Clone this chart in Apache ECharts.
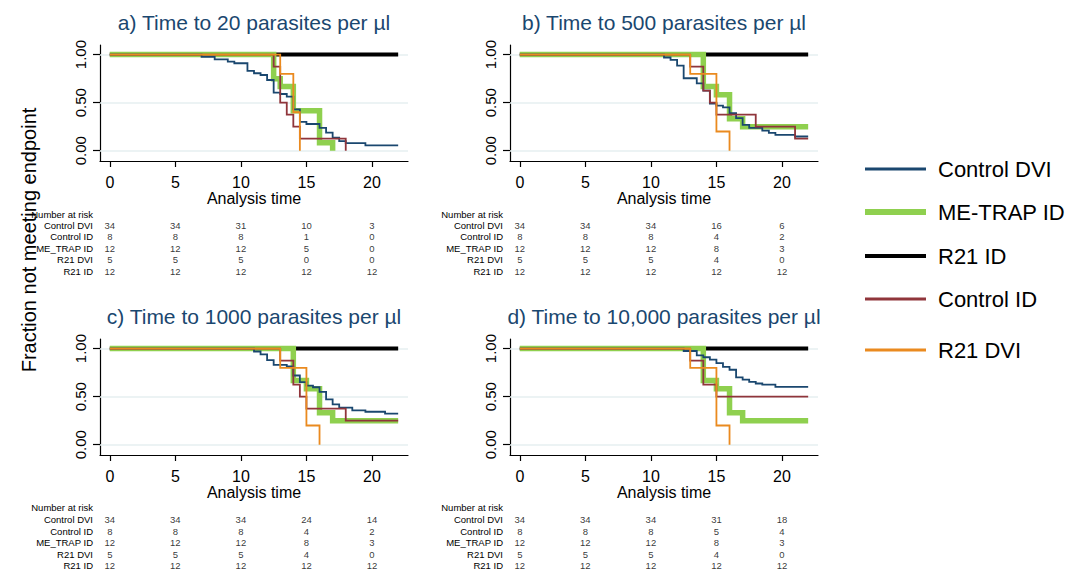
<!DOCTYPE html>
<html>
<head>
<meta charset="utf-8">
<script src="https://cdn.jsdelivr.net/npm/echarts@6/dist/echarts.min.js"></script>
<style>
  html, body { margin: 0; padding: 0; background: #fff; }
  #chart { width: 1073px; height: 573px; }
</style>
</head>
<body>
<div id="chart"></div>
<script>
// Kaplan-Meier curves: each point is [analysis time, fraction not meeting endpoint]
const timeTicks = [0, 5, 10, 15, 20];
const fractionTicks = [0, 0.5, 1];
const riskRowLabels = ['Number at risk', 'Control DVI', 'Control ID', 'ME_TRAP ID', 'R21 DVI', 'R21 ID'];
const legendNames = ['Control DVI', 'ME-TRAP ID', 'R21 ID', 'Control ID', 'R21 DVI'];
const panelTitles = [
  'a) Time to 20 parasites per µl',
  'b) Time to 500 parasites per µl',
  'c) Time to 1000 parasites per µl',
  'd) Time to 10,000 parasites per µl'
];

// R21 ID: no endpoints in any panel
const r21IdSteps = [[0, 1], [22, 1]];

// a) 20 parasites per µl
const controlDviA = [[0, 1], [7, 0.976], [8, 0.951], [9, 0.927], [9.5, 0.91], [10.5, 0.83], [11, 0.806],
  [11.5, 0.788], [12, 0.736], [12.5, 0.604], [13, 0.59], [13.5, 0.5625], [14, 0.43], [14.5, 0.3],
  [15, 0.278], [16, 0.238], [16.5, 0.1875], [17, 0.135], [17.5, 0.1], [18, 0.078], [19.5, 0.055], [22, 0.055]];
const meTrapA = [[0, 1], [12.5, 0.75], [13, 0.667], [14, 0.417], [16, 0.083], [17, 0]];
const controlIdA = [[0, 1], [12.5, 0.875], [13, 0.5], [13.5, 0.375], [14, 0.25], [14.5, 0.125], [18, 0]];
const r21DviA = [[0, 1], [13, 0.8], [14, 0.4], [14.5, 0]];

// b) 500 parasites per µl
const controlDviB = [[0, 1], [11, 0.97], [11.5, 0.945], [12, 0.885], [12.5, 0.754], [13.5, 0.7], [14, 0.625],
  [14.5, 0.49], [15, 0.469], [15.5, 0.45], [16, 0.39], [16.5, 0.34], [17, 0.268], [17.5, 0.238],
  [18.5, 0.21], [19, 0.185], [19.5, 0.165], [21, 0.148], [22, 0.148]];
const meTrapB = [[0, 1], [14, 0.667], [15, 0.583], [16, 0.333], [17, 0.25], [22, 0.25]];
const controlIdB = [[0, 1], [13, 0.875], [14, 0.625], [14.5, 0.5], [15, 0.375], [18, 0.25], [21, 0.125], [22, 0.125]];
const r21DviB = [[0, 1], [13, 0.8], [15, 0.2], [16, 0]];

// c) 1000 parasites per µl
const controlDviC = [[0, 1], [11, 0.97], [11.5, 0.94], [12, 0.88], [12.5, 0.83], [13.5, 0.815], [14, 0.72],
  [14.5, 0.652], [15, 0.615], [15.5, 0.598], [16, 0.55], [16.5, 0.471], [17, 0.42], [17.5, 0.385],
  [18.5, 0.358], [19.5, 0.343], [21, 0.323], [22, 0.323]];
const meTrapC = [[0, 1], [14, 0.667], [15, 0.583], [16, 0.333], [17, 0.25], [22, 0.25]];
const controlIdC = [[0, 1], [13, 0.875], [14, 0.625], [14.5, 0.5], [15, 0.375], [18, 0.25], [22, 0.25]];
const r21DviC = [[0, 1], [13, 0.8], [15, 0.2], [16, 0]];

// d) 10,000 parasites per µl
const controlDviD = [[0, 1], [12.5, 0.975], [13.5, 0.93], [14, 0.91], [14.5, 0.885], [15, 0.85], [15.5, 0.81],
  [16, 0.78], [16.5, 0.7], [17, 0.678], [17.5, 0.654], [18, 0.637], [18.5, 0.626], [19.5, 0.602], [22, 0.602]];
const meTrapD = [[0, 1], [14, 0.667], [15, 0.583], [16, 0.333], [17, 0.25], [22, 0.25]];
const controlIdD = [[0, 1], [13, 0.875], [14, 0.625], [15, 0.5], [22, 0.5]];
const r21DviD = [[0, 1], [13, 0.8], [15, 0.2], [16, 0]];

// Number at risk at times 0, 5, 10, 15, 20 (rows: Control DVI, Control ID, ME_TRAP ID, R21 DVI, R21 ID)
const riskA = [[34, 34, 31, 10, 3], [8, 8, 8, 1, 0], [12, 12, 12, 5, 0], [5, 5, 5, 0, 0], [12, 12, 12, 12, 12]];
const riskB = [[34, 34, 34, 16, 6], [8, 8, 8, 4, 2], [12, 12, 12, 8, 3], [5, 5, 5, 4, 0], [12, 12, 12, 12, 12]];
const riskC = [[34, 34, 34, 24, 14], [8, 8, 8, 4, 2], [12, 12, 12, 8, 3], [5, 5, 5, 4, 0], [12, 12, 12, 12, 12]];
const riskD = [[34, 34, 34, 31, 18], [8, 8, 8, 5, 4], [12, 12, 12, 8, 3], [5, 5, 5, 4, 0], [12, 12, 12, 12, 12]];

const FONT = '"Liberation Sans", Arial, Helvetica, sans-serif';
const colors = {
  'Control DVI': '#1a476f', 'ME-TRAP ID': '#8fd04f', 'R21 ID': '#000000',
  'Control ID': '#90353b', 'R21 DVI': '#ea8a1f'
};
const lineWidths = { 'Control DVI': 1.8, 'ME-TRAP ID': 5.5, 'R21 ID': 4, 'Control ID': 1.8, 'R21 DVI': 1.8 };
const legendThickness = { 'Control DVI': 3, 'ME-TRAP ID': 6, 'R21 ID': 4, 'Control ID': 3, 'R21 DVI': 3 };
const legendCenters = { 'Control DVI': 170, 'ME-TRAP ID': 213, 'R21 ID': 257, 'Control ID': 300, 'R21 DVI': 351 };

const panels = [
  { left: 100, top: 45, tableTop: 208.3, tableH: 68.8, risk: riskA,
    steps: { 'R21 ID': r21IdSteps, 'ME-TRAP ID': meTrapA, 'Control DVI': controlDviA, 'Control ID': controlIdA, 'R21 DVI': r21DviA } },
  { left: 510, top: 45, tableTop: 208.3, tableH: 68.8, risk: riskB,
    steps: { 'R21 ID': r21IdSteps, 'ME-TRAP ID': meTrapB, 'Control DVI': controlDviB, 'Control ID': controlIdB, 'R21 DVI': r21DviB } },
  { left: 100, top: 339, tableTop: 502.2, tableH: 69.2, risk: riskC,
    steps: { 'R21 ID': r21IdSteps, 'ME-TRAP ID': meTrapC, 'Control DVI': controlDviC, 'Control ID': controlIdC, 'R21 DVI': r21DviC } },
  { left: 510, top: 339, tableTop: 502.2, tableH: 69.2, risk: riskD,
    steps: { 'R21 ID': r21IdSteps, 'ME-TRAP ID': meTrapD, 'Control DVI': controlDviD, 'Control ID': controlIdD, 'R21 DVI': r21DviD } }
];
const PLOT_W = 308, PLOT_H = 116;
const X_MIN = -0.75, X_MAX = 22.75, Y_MIN = -0.107, Y_MAX = 1.1;
const drawOrder = ['R21 ID', 'ME-TRAP ID', 'Control DVI', 'Control ID', 'R21 DVI'];

const grid = [], xAxis = [], yAxis = [], series = [], title = [];

panels.forEach((p, i) => {
  const gPlot = i * 2, gTable = i * 2 + 1;
  grid.push({ left: p.left, top: p.top, width: PLOT_W, height: PLOT_H });
  grid.push({ left: p.left, top: p.tableTop, width: PLOT_W, height: p.tableH });

  title.push({
    text: panelTitles[i], left: p.left + PLOT_W / 2, top: p.top - 33, textAlign: 'center', padding: 0,
    textStyle: { fontFamily: FONT, fontSize: 21, fontWeight: 'normal', color: '#1a476f' }
  });

  xAxis.push({
    gridIndex: gPlot, type: 'value', min: X_MIN, max: X_MAX,
    name: 'Analysis time', nameLocation: 'middle', nameGap: 28,
    nameTextStyle: { fontFamily: FONT, fontSize: 16, color: '#000' },
    axisLine: { show: true, onZero: false, lineStyle: { color: '#000', width: 1.2 } },
    axisTick: { show: true, length: 6, customValues: timeTicks, lineStyle: { color: '#000', width: 1.2 } },
    axisLabel: { customValues: timeTicks, margin: 13, fontFamily: FONT, fontSize: 16, color: '#000' },
    splitLine: { show: false }
  });
  yAxis.push({
    gridIndex: gPlot, type: 'value', min: Y_MIN, max: Y_MAX,
    axisLine: { show: true, onZero: false, lineStyle: { color: '#000', width: 1.2 } },
    axisTick: { show: true, length: 7, customValues: fractionTicks, lineStyle: { color: '#000', width: 1.2 } },
    axisLabel: { customValues: fractionTicks, rotate: 90, margin: 12, fontFamily: FONT, fontSize: 15, color: '#000',
      formatter: v => Number(v).toFixed(2) },
    splitLine: { show: false }
  });

  // table axes share the plot's time scale
  xAxis.push({ gridIndex: gTable, type: 'value', min: X_MIN, max: X_MAX, show: false });
  yAxis.push({
    gridIndex: gTable, type: 'category', data: riskRowLabels, inverse: true,
    axisLine: { show: false }, axisTick: { show: false }, splitLine: { show: false },
    axisLabel: { interval: 0, margin: 7, fontFamily: FONT, fontSize: 9.5, color: '#000' }
  });

  // light reference lines at 0, 0.5 and 1, kept under the curves
  series.push({
    type: 'line', xAxisIndex: gPlot, yAxisIndex: gPlot, data: [], z: 1, silent: true,
    markLine: {
      silent: true, symbol: 'none', z: 1, animation: false, label: { show: false },
      lineStyle: { color: '#e6eff1', width: 1.5, type: 'solid' },
      emphasis: { disabled: true },
      data: fractionTicks.map(v => ({ yAxis: v }))
    }
  });

  drawOrder.forEach(name => {
    series.push({
      name, type: 'line', step: 'end', xAxisIndex: gPlot, yAxisIndex: gPlot,
      data: p.steps[name], symbol: 'none', z: 3, color: colors[name],
      lineStyle: { color: colors[name], width: lineWidths[name], cap: 'butt', join: 'miter' }
    });
  });

  const tableData = [];
  p.risk.forEach((row, r) => {
    row.forEach((n, j) => tableData.push([timeTicks[j], riskRowLabels[r + 1], n]));
  });
  series.push({
    type: 'scatter', xAxisIndex: gTable, yAxisIndex: gTable, data: tableData,
    symbolSize: 1, itemStyle: { color: 'transparent' }, silent: true,
    label: { show: true, position: 'inside', formatter: d => String(d.value[2]),
      fontFamily: FONT, fontSize: 9.5, color: '#000' }
  });
});

const legend = legendNames.map(name => ({
  data: [name], left: 865, top: legendCenters[name] - 12, orient: 'vertical', padding: 0,
  icon: 'rect', itemWidth: 61, itemHeight: legendThickness[name], selectedMode: false,
  itemStyle: { borderWidth: 0 },
  textStyle: { fontFamily: FONT, fontSize: 22, color: '#000', padding: [0, 0, 0, 7] }
}));

const chart = echarts.init(document.getElementById('chart'), null, { renderer: 'svg' });
chart.setOption({
  animation: false,
  backgroundColor: '#fff',
  title, grid, xAxis, yAxis, series, legend,
  graphic: [{
    type: 'text', x: 29, y: 240, rotation: Math.PI / 2,
    style: { text: 'Fraction not meeting endpoint', font: '20px ' + FONT, fill: '#000',
      textAlign: 'center', textVerticalAlign: 'middle' }
  }]
});
</script>
</body>
</html>
